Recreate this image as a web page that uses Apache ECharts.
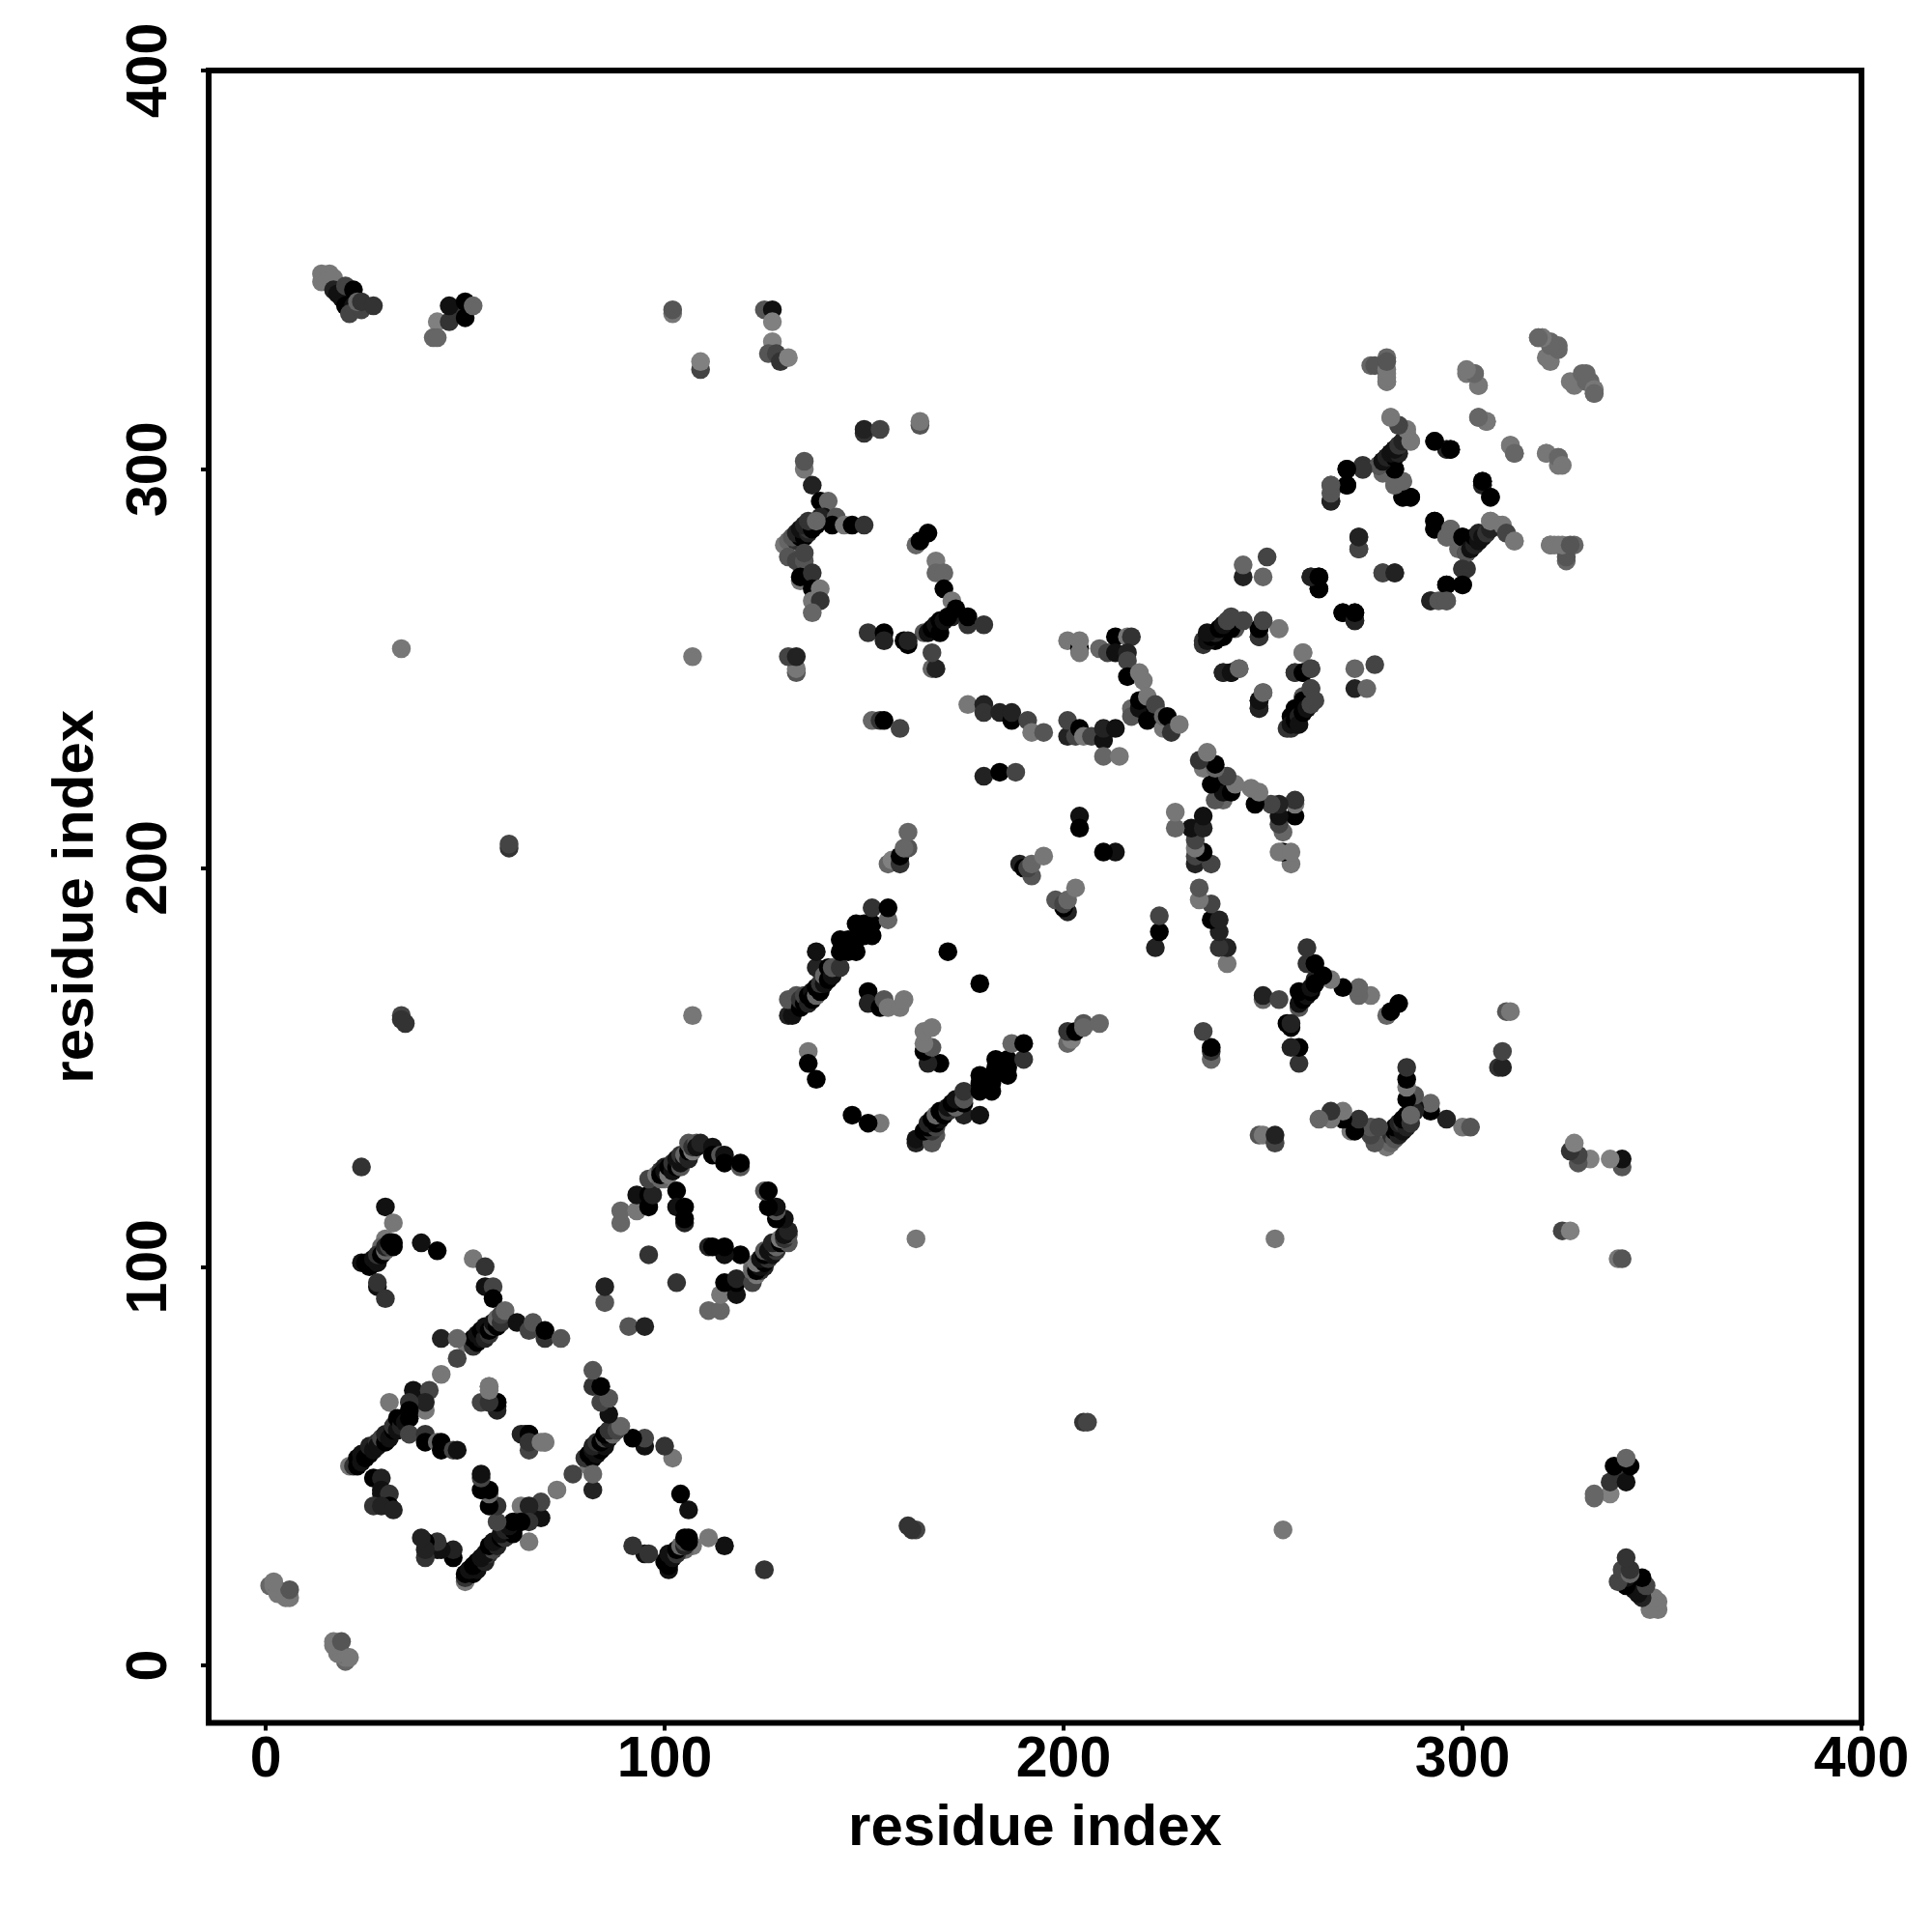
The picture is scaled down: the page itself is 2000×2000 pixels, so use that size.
<!DOCTYPE html>
<html>
<head>
<meta charset="utf-8">
<style>html,body{margin:0;padding:0;background:#fff}#c{width:2000px;height:2000px}</style>
<script src="https://cdn.jsdelivr.net/npm/echarts@6/dist/echarts.min.js"></script>
</head>
<body>
<div id="c"></div>
<script>
// Every entry: [residue i, residue j, grey level]. The map is symmetric, each contact is listed once.
const tickValues = [0, 100, 200, 300, 400];
const axisTitle = 'residue index';

const termini = [[1,20,102],[2,20,119],[3,19,102],[3,18,119],[5,18,119],[5,17,119],[6,17,119],[6,19,85],[2,21,119]];
const topLeft = [[14,349,119],[14,347,119],[16,349,119],[17,348,119],[17,345,34],[19,343,17],[18,344,17],[20,341,0],[22,341,17],[21,339,68],[24,340,68],[20,346,68],[22,345,0],[23,342,102],[24,342,51],[27,341,51],
  [43,337,128],[42,333,102],[43,333,102],[46,337,51],[47,340,51],[46,341,17],[50,338,0],[50,342,0],[52,341,102]];
const farContacts = [[102,339,119],[102,340,85],[125,340,85],[127,340,17],[127,337,128],[127,332,128],[126,329,85],[128,329,68],[129,327,51],[131,328,128],[109,325,68],[109,327,128],
  [34,255,119],[107,253,119],[24,125,51],[34,163,68],[34,162,51],[35,161,51],[61,205,51],[61,206,68],[107,163,119]];
const lowerArm = [[30,115,17],[32,111,119],[30,107,119],[29,105,102],[24,101,17],[25,101,0],[26,100,0],[27,102,17],[28,101,17],[28,103,51],[29,103,0],[30,104,102],[30,105,34],[31,105,68],[31,106,0],[32,105,0],[32,106,0],
  [28,95,17],[28,96,51],[30,92,51],[39,106,17],[43,104,0],[52,102,119],[55,100,51],[55,95,17],[57,95,68],[57,92,0]];
const starOne = [[50,81,119],[52,80,51],[52,82,0],[53,81,0],[53,83,17],[54,82,17],[54,84,0],[55,82,34],[55,85,17],[56,83,51],[56,84,0],[57,85,68],[57,86,17],[58,85,0],[58,87,102],[59,86,51],[59,88,68],[60,89,102],[63,86,17],[66,84,68],[67,86,85],[70,82,51],[70,84,0],[74,82,85],[44,82,34],[48,82,102],[48,77,68],[44,73,119]];
const bandTwo = [[37,69,17],[41,69,68],[40,64,119],[40,66,34],[31,66,119],[36,66,51],[36,64,0],
  [21,50,119],[22,50,51],[23,50,0],[23,52,0],[24,51,17],[24,53,17],[25,52,0],[26,53,0],[26,55,34],[27,54,17],[28,56,51],[28,55,17],[29,57,68],[30,56,0],[30,58,34],[31,57,17],[32,59,0],[32,60,51],[33,59,17],[33,62,0],[34,60,34],[34,62,0],[35,61,17],[36,62,0],[36,58,68],
  [40,58,51],[40,56,0],[43,56,102],[44,56,0],[44,54,0],[47,54,68],[48,54,17],
  [27,47,0],[29,47,34],[29,44,17],[29,43,17],[31,43,51],[31,40,0],[27,40,51],[29,40,34],[32,39,34],
  [56,70,119],[54,66,68],[58,65,34],[56,66,68],[58,66,0],[64,58,34],[66,58,0],[66,56,51],[69,56,119],[70,56,119]];
const ring = [[85,91,85],[85,95,34],[89,111,102],[89,114,102],[93,114,119],[93,118,17],[96,115,0],[96,118,0],[97,118,34],[96,122,68],[96,103,51],
  [98,123,119],[100,122,119],[99,124,51],[100,123,17],[100,125,34],[99,122,102],[99,123,0],[100,124,17],[101,123,119],[101,125,0],[102,124,17],[102,126,51],[103,125,0],[103,127,17],[104,125,85],[104,126,17],[104,128,51],[105,127,17],[105,128,102],[106,127,34],[106,129,0],[106,131,85],[107,129,119],[107,130,51],[108,131,85],[108,130,17],[109,131,34],[112,130,17],[112,128,0],[114,128,85],[115,128,17],[115,126,0],[119,125,85],[119,126,0],
  [103,119,0],[103,115,17],[105,115,0],[105,111,34],[105,112,0]];
const midBand = [[131,163,34],[132,163,17],[133,165,17],[131,167,85],[133,168,85],[134,165,0],[134,167,51],[135,166,0],[135,168,68],[136,166,34],[136,168,0],[137,169,17],[137,167,0],[138,168,102],[138,170,0],[139,169,0],[139,171,51],[138,175,34],[138,179,17],[140,171,17],[140,173,102],[141,172,0],[141,175,0],[142,173,17],[142,175,85],[144,175,51],[144,179,0],[144,182,0],[146,179,0],[146,182,0],[148,179,0],[148,182,0],[148,186,0],[150,183,0],[150,186,0],[152,183,0],[152,186,0],[152,190,51],[156,187,102],[156,190,0],
  [151,169,0],[151,166,34],[154,165,0],[155,167,85],[156,165,119],[159,165,119],[160,167,119],
  [136,154,119],[136,151,0],[138,147,0],[171,179,0],
  [156,201,102],[157,202,128],[159,201,51],[159,203,0],[161,205,85],[160,205,102],[161,209,102],
  [189,201,34],[190,200,0],[192,198,85],[191,200,68],[192,201,102],[195,203,119],[204,213,17],[204,210,0]];
const starA = [[150,309,51],[150,310,34],[154,310,68],[164,311,85],[164,312,119],
  [135,300,119],[135,302,85],[137,296,34],[139,292,0],[141,292,102],[140,288,17],[139,288,34],[143,288,85],[142,286,0],[145,286,119],[147,286,0],[150,286,51],
  [130,281,119],[131,282,102],[133,282,51],[132,283,85],[134,283,0],[133,284,34],[135,283,0],[134,285,17],[136,284,34],[136,285,51],[135,286,34],[137,285,0],[138,286,0],[136,287,51],[138,287,102],
  [131,278,85],[133,277,68],[135,277,85],[135,279,68],[134,272,119],[134,273,0],[137,274,51],[137,270,0],[139,270,119],[137,267,119],[139,267,51],[137,264,102],
  [133,249,85],[133,250,119],[131,253,68],[133,253,34],
  [163,281,102],[164,282,0],[166,284,0],[168,277,119],[168,274,102],[170,274,102],[170,270,0],[172,267,119],[172,263,34],[173,265,0],[176,261,51],[176,263,0],[180,261,51],
  [165,259,85],[166,259,17],[167,260,0],[168,261,17],[169,259,0],[169,262,0],[170,262,17],[171,263,0],
  [151,259,51],[155,259,0],[155,257,34],[160,257,0],[161,256,0],[161,257,34],[167,250,102],[168,250,34],[167,254,68]];
const midRight = [[152,237,102],[154,237,51],[155,237,0],[159,235,68],
  [176,241,119],[180,241,34],[180,239,51],[184,239,34],[187,237,0],[187,239,34],[191,237,68],[192,234,119],[195,234,85],
  [180,223,34],[184,224,0],[188,224,68],
  [201,257,119],[204,255,0],[204,254,119],[204,257,119],[209,255,102],
  [211,254,68],[213,258,0],[213,254,17],[216,258,119],[217,258,51],[216,254,34],[216,252,68],[216,248,0],[219,249,119],[220,247,119],
  [217,240,102],[217,238,85],[219,240,17],[219,242,0],[221,237,0],[221,243,119],[223,240,0],[223,241,68],[225,235,119],[225,238,102],[226,238,0],[227,234,51],[229,236,119],
  [201,233,34],[201,237,68],[203,233,68],[204,235,0],[205,233,119],[207,233,68],[210,232,17],[210,235,34],[213,235,17],[210,228,102],[214,228,119]];
const upperRight = [[235,257,51],[236,258,17],[238,257,0],[239,260,0],[240,258,0],[243,260,85],[242,262,85],[245,262,85],[249,258,51],[249,260,0],[250,262,85],[254,260,119],
  [240,249,34],[242,249,0],[244,250,102],[249,240,34],[249,242,17],[250,244,102],
  [260,254,119],[258,249,51],[260,249,0],[262,250,68],
  [256,235,51],[257,236,17],[258,237,0],[259,238,34],[259,236,17],[260,239,0],[260,242,0],[261,240,17],[262,241,68],[262,245,68],[263,242,68],
  [245,273,34],[245,276,102],[250,273,102],[251,278,68],[262,273,34],[264,273,0],[264,270,0],[274,280,68],[274,283,34],[270,264,0],[273,262,34],[273,264,0],[280,274,68],[283,274,34],
  [267,292,34],[267,296,85],[271,296,0],[271,300,0],[275,300,85],[275,301,51],
  [280,299,102],[279,301,51],[280,302,34],[283,300,0],[281,303,0],[282,304,17],[283,305,34],[284,306,51],[282,313,128],[284,311,85],[286,309,119],[287,307,119],
  [283,296,102],[285,293,0],[287,293,0],[285,297,102],[293,307,34],[296,305,119],[297,305,0],[305,296,34],[305,297,0],[307,293,0],
  [293,285,0],[293,287,0],[296,283,102],[297,285,102],[300,283,0],[301,279,85],[302,280,17],[303,281,34],[303,283,0],[304,282,17],[304,284,34],[305,283,17],[306,284,51],[307,285,34],[307,287,119],[310,286,119],[311,284,68],[313,282,119],
  [300,275,51],[296,271,0],[300,271,0],[292,267,34],[294,267,85],[296,267,85]];
const topRight = [[319,333,119],[320,333,119],[321,328,119],[322,332,102],[324,331,102],[327,322,119],[330,324,102],[331,322,102],[333,320,119],[333,319,102],
  [277,326,102],[281,322,102],[281,324,128],[281,328,102],[301,324,119],[303,324,102],[304,321,119],[304,313,102],[306,312,119],[312,306,119],[313,304,102],[321,304,119],[324,303,102],[325,301,119],
  [322,281,119],[323,281,119],[326,278,85],[325,281,119],[327,281,85]];

const groups = [termini, topLeft, farContacts, lowerArm, starOne, bandTwo, ring, midBand, starA, midRight, upperRight, topRight];

const points = [];
for (const g of groups) for (const [i, j, s] of g) { points.push([i, j, s]); points.push([j, i, s]); }

const font = { fontFamily: '"Liberation Sans", Arial, sans-serif', fontWeight: 'bold', color: '#000' };
const axisBase = {
  type: 'value', max: 400, name: axisTitle, nameLocation: 'middle',
  nameTextStyle: { ...font, fontSize: 60 },
  splitLine: { show: false },
  axisLine: { show: false, onZero: false },
  axisTick: { show: true, length: 8, lineStyle: { color: '#000', width: 4 }, customValues: tickValues },
  axisLabel: { ...font, fontSize: 59, customValues: tickValues, hideOverlap: false }
};

const chart = echarts.init(document.getElementById('c'), null, { renderer: 'canvas' });
chart.setOption({
  animation: false,
  backgroundColor: '#fff',
  grid: { left: 216, top: 73, width: 1711, height: 1710.5, show: true, borderColor: '#000', borderWidth: 6, backgroundColor: 'transparent' },
  xAxis: { ...axisBase, min: -14.3, nameGap: 80, axisLabel: { ...axisBase.axisLabel, margin: 10 } },
  yAxis: { ...axisBase, min: -14.4, nameGap: 107, axisLabel: { ...axisBase.axisLabel, rotate: 90, margin: 31 } },
  series: [{
    type: 'scatter', data: points, symbol: 'circle', symbolSize: 19.5, clip: false,
    itemStyle: { opacity: 1, color: p => { const s = p.value[2]; return `rgb(${s},${s},${s})`; } }
  }]
});
</script>
</body>
</html>
